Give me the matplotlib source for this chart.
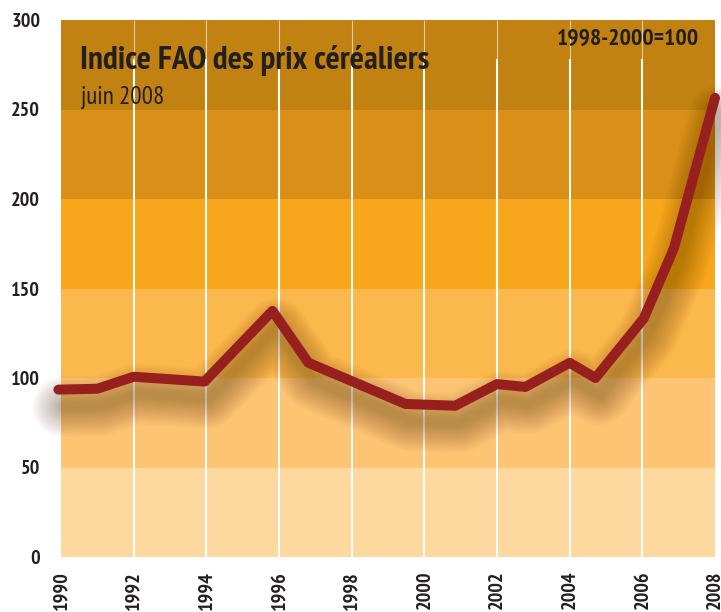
import matplotlib
matplotlib.use("Agg")
import matplotlib.pyplot as plt
import matplotlib.transforms as mtransforms

# ---------------- data ----------------
years = [1989.93, 1991.0, 1992.0, 1993.95, 1995.82, 1996.81, 1999.48, 2000.85,
         2002.0, 2002.78, 2004.0, 2004.71, 2006.04, 2006.87, 2008.0]
index_values = [93.5, 94, 100.7, 98, 137.5, 108.5, 85.5, 84.5,
                96.6, 95, 108.5, 100, 133.3, 172.5, 256.5]
band_edges = [0, 50, 100, 150, 200, 250, 300]
band_colors = ["#FDD9A0", "#FCC473", "#FBB84C", "#F8A61C", "#D98F18", "#C28212"]
x_ticks = [1990, 1992, 1994, 1996, 1998, 2000, 2002, 2004, 2006, 2008]
y_ticks = [0, 50, 100, 150, 200, 250, 300]
title = "Indice FAO des prix céréaliers"
subtitle = "juin 2008"
base_note = "1998-2000=100"

plt.rcParams["font.family"] = ["PT Sans Narrow", "DejaVu Sans"]
TXT = "#231F20"

W, H, DPI = 721, 612, 100
fig = plt.figure(figsize=(W / DPI, H / DPI), dpi=DPI)
ax = fig.add_axes([61 / W, (H - 557) / H, (715 - 61) / W, (557 - 20) / H])
ax.set_xlim(1990, 2008)
ax.set_ylim(0, 300)

# colour bands
for lo, hi, c in zip(band_edges[:-1], band_edges[1:], band_colors):
    ax.axhspan(lo, hi, color=c, lw=0, zorder=0)

# white vertical grid lines
for xv in x_ticks[1:-1]:
    ax.plot([xv, xv], [0, 278], color="white", lw=1.5, zorder=1, solid_capstyle="butt")
    ax.plot([xv, xv], [278, 300], color="white", lw=0.8, alpha=0.6, zorder=1,
            solid_capstyle="butt")

# soft shadow under the line
shadow_tr = mtransforms.offset_copy(ax.transData, fig=fig, x=4, y=-17, units="dots")
n = 22
for i in range(n):
    lw_px = 8 + i * 2.5
    ax.plot(years, index_values, color="#3d2200", alpha=0.016, lw=lw_px * 0.72,
            solid_joinstyle="round", solid_capstyle="round",
            transform=shadow_tr, zorder=2, clip_on=False)

# main line
ax.plot(years, index_values, color="#97201F", lw=10 * 0.72,
        solid_joinstyle="round", solid_capstyle="round", zorder=3, clip_on=False)

for s in ax.spines.values():
    s.set_visible(False)
ax.set_xticks(x_ticks)
ax.set_yticks(y_ticks)
ax.tick_params(length=0)
ax.set_xticklabels([str(v) for v in x_ticks], rotation=90, fontsize=14.5,
                   fontweight="bold", color=TXT)
ax.set_yticklabels([str(v) for v in y_ticks], fontsize=14.5, fontweight="bold",
                   color=TXT)
ax.tick_params(axis="x", pad=10)
ax.tick_params(axis="y", pad=15)

fig.text(80 / W, 1 - 60 / H, title, fontsize=24, fontweight="bold",
         color=TXT, va="center", ha="left")
fig.text(81 / W, 1 - 97 / H, subtitle, fontsize=18, color=TXT,
         va="center", ha="left")
fig.text(699 / W, 1 - 39 / H, base_note, fontsize=17, fontweight="bold",
         color=TXT, va="center", ha="right")

fig.savefig("out.png", dpi=DPI)
